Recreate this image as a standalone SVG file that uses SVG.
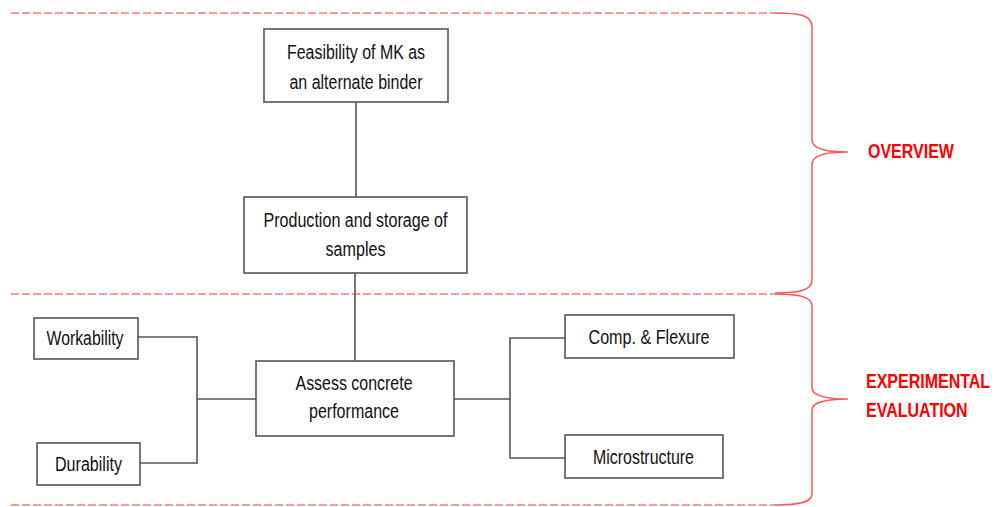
<svg xmlns="http://www.w3.org/2000/svg" width="995" height="507" viewBox="0 0 995 507">
<style>
.box{fill:#fff;stroke:#555;stroke-width:1.6}
.t{font-family:"Liberation Sans",Arial,sans-serif;font-size:20px;fill:#111;text-anchor:middle}
.lbl{font-family:"Liberation Sans",Arial,sans-serif;font-size:20px;font-weight:bold;fill:#f00}
.c{fill:none;stroke:#555;stroke-width:1.6}
.dash{fill:none;stroke:#f77;stroke-width:1.6;stroke-dasharray:8 3}
.brace{fill:none;stroke:#f55;stroke-width:1.5}
</style>
<rect width="995" height="507" fill="#fff"/>
<g id="sections">
<line class="dash" x1="11" y1="13" x2="775" y2="13"/>
<line class="dash" x1="11" y1="294" x2="775" y2="294"/>
<line class="dash" x1="11" y1="505" x2="775" y2="505"/>
<path class="brace" d="M775,13 C800,13 812,15 812,27 L812,140 C812,148 825,152 848,152 C825,152 812,156 812,164 L812,280 C812,290 800,293 775,293"/>
<path class="brace" d="M775,294 C800,294 812,297 812,306 L812,388 C812,395 825,399 848,399 C825,399 812,403 812,410 L812,494 C812,502 800,505 775,505"/>
<text class="lbl" transform="translate(868,158) scale(0.8,1)">OVERVIEW</text>
<text class="lbl" transform="translate(866,388) scale(0.8,1)">EXPERIMENTAL</text>
<text class="lbl" transform="translate(866,417) scale(0.8,1)">EVALUATION</text>
</g>
<g id="connectors">
<line class="c" x1="356" y1="102" x2="356" y2="197"/>
<line class="c" x1="355" y1="273" x2="355" y2="361"/>
<polyline class="c" points="138,337 197,337 197,463 140,463"/>
<line class="c" x1="197" y1="399" x2="256" y2="399"/>
<line class="c" x1="454" y1="399" x2="510" y2="399"/>
<polyline class="c" points="565,338 510,338 510,458 565,458"/>
</g>
<g id="feasibility">
<rect class="box" x="264" y="29" width="184" height="73"/>
<text class="t" x="356" y="59" textLength="138" lengthAdjust="spacingAndGlyphs">Feasibility of MK as</text>
<text class="t" x="356" y="89" textLength="133" lengthAdjust="spacingAndGlyphs">an alternate binder</text>
</g>
<g id="production">
<rect class="box" x="244" y="197" width="223" height="76"/>
<text class="t" x="355.5" y="227" textLength="184" lengthAdjust="spacingAndGlyphs">Production and storage of</text>
<text class="t" x="355.5" y="256" textLength="60" lengthAdjust="spacingAndGlyphs">samples</text>
</g>
<g id="assess">
<rect class="box" x="256" y="361" width="198" height="75"/>
<text class="t" x="354" y="390" textLength="117" lengthAdjust="spacingAndGlyphs">Assess concrete</text>
<text class="t" x="354" y="418" textLength="90" lengthAdjust="spacingAndGlyphs">performance</text>
</g>
<g id="workability">
<rect class="box" x="34" y="318" width="104" height="41"/>
<text class="t" x="85" y="345" textLength="77" lengthAdjust="spacingAndGlyphs">Workability</text>
</g>
<g id="durability">
<rect class="box" x="37" y="443" width="103" height="42"/>
<text class="t" x="88.5" y="471" textLength="67" lengthAdjust="spacingAndGlyphs">Durability</text>
</g>
<g id="comp">
<rect class="box" x="565" y="315" width="169" height="43"/>
<text class="t" x="649" y="344" textLength="121" lengthAdjust="spacingAndGlyphs">Comp. &amp; Flexure</text>
</g>
<g id="micro">
<rect class="box" x="565" y="435" width="158" height="43"/>
<text class="t" x="643.5" y="464" textLength="101" lengthAdjust="spacingAndGlyphs">Microstructure</text>
</g>
</svg>
